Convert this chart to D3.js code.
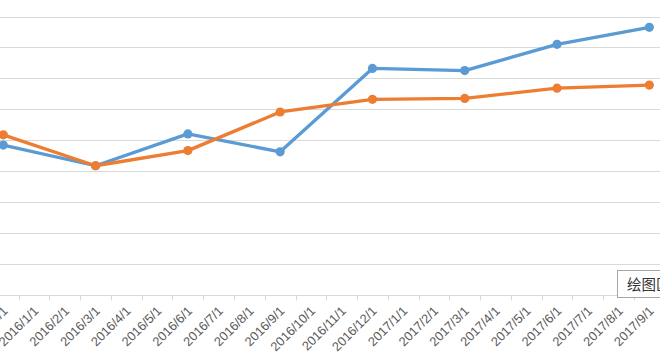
<!DOCTYPE html>
<html><head><meta charset="utf-8">
<script src="https://cdn.jsdelivr.net/npm/d3@7"></script>
<style>html,body{margin:0;padding:0;background:#fff;overflow:hidden}</style>
</head><body>
<svg id="chart" width="660" height="358"></svg>
<script>
const categories = ["2015/12/1","2016/1/1","2016/2/1","2016/3/1","2016/4/1","2016/5/1","2016/6/1","2016/7/1","2016/8/1","2016/9/1","2016/10/1","2016/11/1","2016/12/1","2017/1/1","2017/2/1","2017/3/1","2017/4/1","2017/5/1","2017/6/1","2017/7/1","2017/8/1","2017/9/1"];
const pointDates = ["2015/12/1","2016/3/1","2016/6/1","2016/9/1","2016/12/1","2017/3/1","2017/6/1","2017/9/1"];
const blueValues = [4.84, 4.17, 5.20, 4.62, 7.32, 7.25, 8.10, 8.65];
const orangeValues = [5.17, 4.17, 4.66, 5.91, 6.32, 6.35, 6.68, 6.78];
const gridValues = [1,2,3,4,5,6,7,8,9];
const tooltipText = "绘图区";

const svg = d3.select("#chart");
const x = d3.scaleBand().domain(categories).range([-12.1, 664.7]).paddingInner(0).paddingOuter(0);
const y = d3.scaleLinear().domain([0, 9]).range([294.6, 16.5]);
const cx = d => x(d) + x.bandwidth() / 2;

// gridlines
svg.append("g").selectAll("line").data(gridValues).join("line")
  .attr("x1", -20).attr("x2", 680)
  .attr("y1", d => Math.round(y(d)) + 0.5).attr("y2", d => Math.round(y(d)) + 0.5)
  .attr("stroke", "#d9d9d9").attr("stroke-width", 1);

// x axis
const xAxis = d3.axisBottom(x).tickSize(0).tickFormat(d => d);
const gx = svg.append("g").attr("transform", `translate(0,${Math.round(y(0)) + 0.5})`).call(xAxis);
gx.select(".domain").attr("stroke", "#d9d9d9").attr("d", "M-20,0H680");
const bounds = categories.map(c => x(c)).concat([x(categories[categories.length-1]) + x.bandwidth()]);
gx.append("g").selectAll("line").data(bounds).join("line")
  .attr("x1", d => Math.round(d) + 0.5).attr("x2", d => Math.round(d) + 0.5)
  .attr("y1", 0).attr("y2", 5).attr("stroke", "#d9d9d9");
gx.selectAll(".tick text")
  .attr("font-family", "'Liberation Sans', Arial, sans-serif")
  .attr("font-size", 12.8).attr("fill", "#595959")
  .attr("text-anchor", "end")
  .attr("dy", "0.35em").attr("y", 0)
  .attr("transform", "translate(2,13) rotate(-45)");

// lines
const line = d3.line().x((d, i) => cx(pointDates[i])).y(d => y(d));
function drawSeries(vals, color) {
  svg.append("path").datum(vals).attr("d", line)
    .attr("fill", "none").attr("stroke", color).attr("stroke-width", 3.3)
    .attr("stroke-linejoin", "round").attr("stroke-linecap", "round");
  svg.append("g").selectAll("circle").data(vals).join("circle")
    .attr("cx", (d, i) => cx(pointDates[i])).attr("cy", d => y(d))
    .attr("r", 4.6).attr("fill", color);
}
drawSeries(blueValues, "#5B9BD5");
drawSeries(orangeValues, "#ED7D31");

// tooltip box
const tip = svg.append("g").attr("transform", "translate(617.5,270.5)");
tip.append("rect").attr("width", 60).attr("height", 27).attr("fill", "#fff").attr("stroke", "#a6a6a6");
tip.append("text").attr("x", 9.5).attr("y", 19.5).attr("font-family", "'Noto Sans CJK SC', sans-serif")
  .attr("font-size", 14.5).attr("fill", "#333").text(tooltipText);
</script>
</body></html>
